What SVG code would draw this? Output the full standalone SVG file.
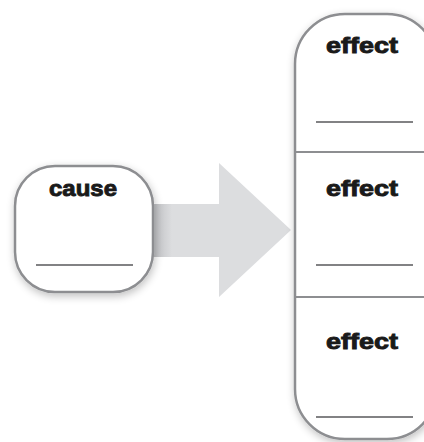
<svg xmlns="http://www.w3.org/2000/svg" width="424" height="442" viewBox="0 0 424 442">
  <defs>
    <filter id="shadow" x="-20%" y="-20%" width="140%" height="140%">
      <feGaussianBlur in="SourceAlpha" stdDeviation="4"/>
      <feOffset dx="1" dy="3" result="b"/>
      <feComponentTransfer><feFuncA type="linear" slope="0.25"/></feComponentTransfer>
      <feMerge><feMergeNode/><feMergeNode in="SourceGraphic"/></feMerge>
    </filter>
    <linearGradient id="shaftShade" x1="0" y1="0" x2="1" y2="0">
      <stop offset="0" stop-color="#b9babd"/>
      <stop offset="1" stop-color="#dcdddf"/>
    </linearGradient>
    <style>
      .box { fill: #ffffff; stroke: #8d8e91; stroke-width: 2.5; }
      .div { stroke: #8d8e91; stroke-width: 2; }
      .ul { stroke: #58595b; stroke-width: 1.6; }
      .lbl { font-family: "Liberation Sans", Arial, sans-serif; font-weight: bold; font-size: 22px; fill: #1a1a1a; stroke: #1a1a1a; stroke-width: 0.9; text-anchor: middle; }
    </style>
  </defs>
  <rect width="424" height="442" fill="#ffffff"/>
  <g id="connectors">
    <polygon points="140,204 219,204 219,163 291,230 219,297 219,257 140,257" fill="#dcdddf"/>
    <rect x="150" y="204" width="22" height="53" fill="url(#shaftShade)"/>
  </g>
  <g id="cause">
    <rect class="box" x="15" y="166" width="138" height="126" rx="40" ry="40" filter="url(#shadow)"/>
    <text class="lbl" x="83" y="196" textLength="68" lengthAdjust="spacingAndGlyphs">cause</text>
    <line class="ul" x1="36" y1="265" x2="133" y2="265"/>
  </g>
  <g id="effects">
    <rect class="box" x="295" y="14" width="142" height="425" rx="50" ry="50" filter="url(#shadow)"/>
    <line class="div" x1="295" y1="152" x2="424" y2="152"/>
    <line class="div" x1="295" y1="297" x2="424" y2="297"/>
  </g>
  <g id="effect1">
    <text class="lbl" x="362" y="53" textLength="72" lengthAdjust="spacingAndGlyphs">effect</text>
    <line class="ul" x1="316" y1="122" x2="413" y2="122"/>
  </g>
  <g id="effect2">
    <text class="lbl" x="362" y="196" textLength="72" lengthAdjust="spacingAndGlyphs">effect</text>
    <line class="ul" x1="316" y1="265" x2="413" y2="265"/>
  </g>
  <g id="effect3">
    <text class="lbl" x="362" y="349" textLength="72" lengthAdjust="spacingAndGlyphs">effect</text>
    <line class="ul" x1="316" y1="417" x2="413" y2="417"/>
  </g>
</svg>
